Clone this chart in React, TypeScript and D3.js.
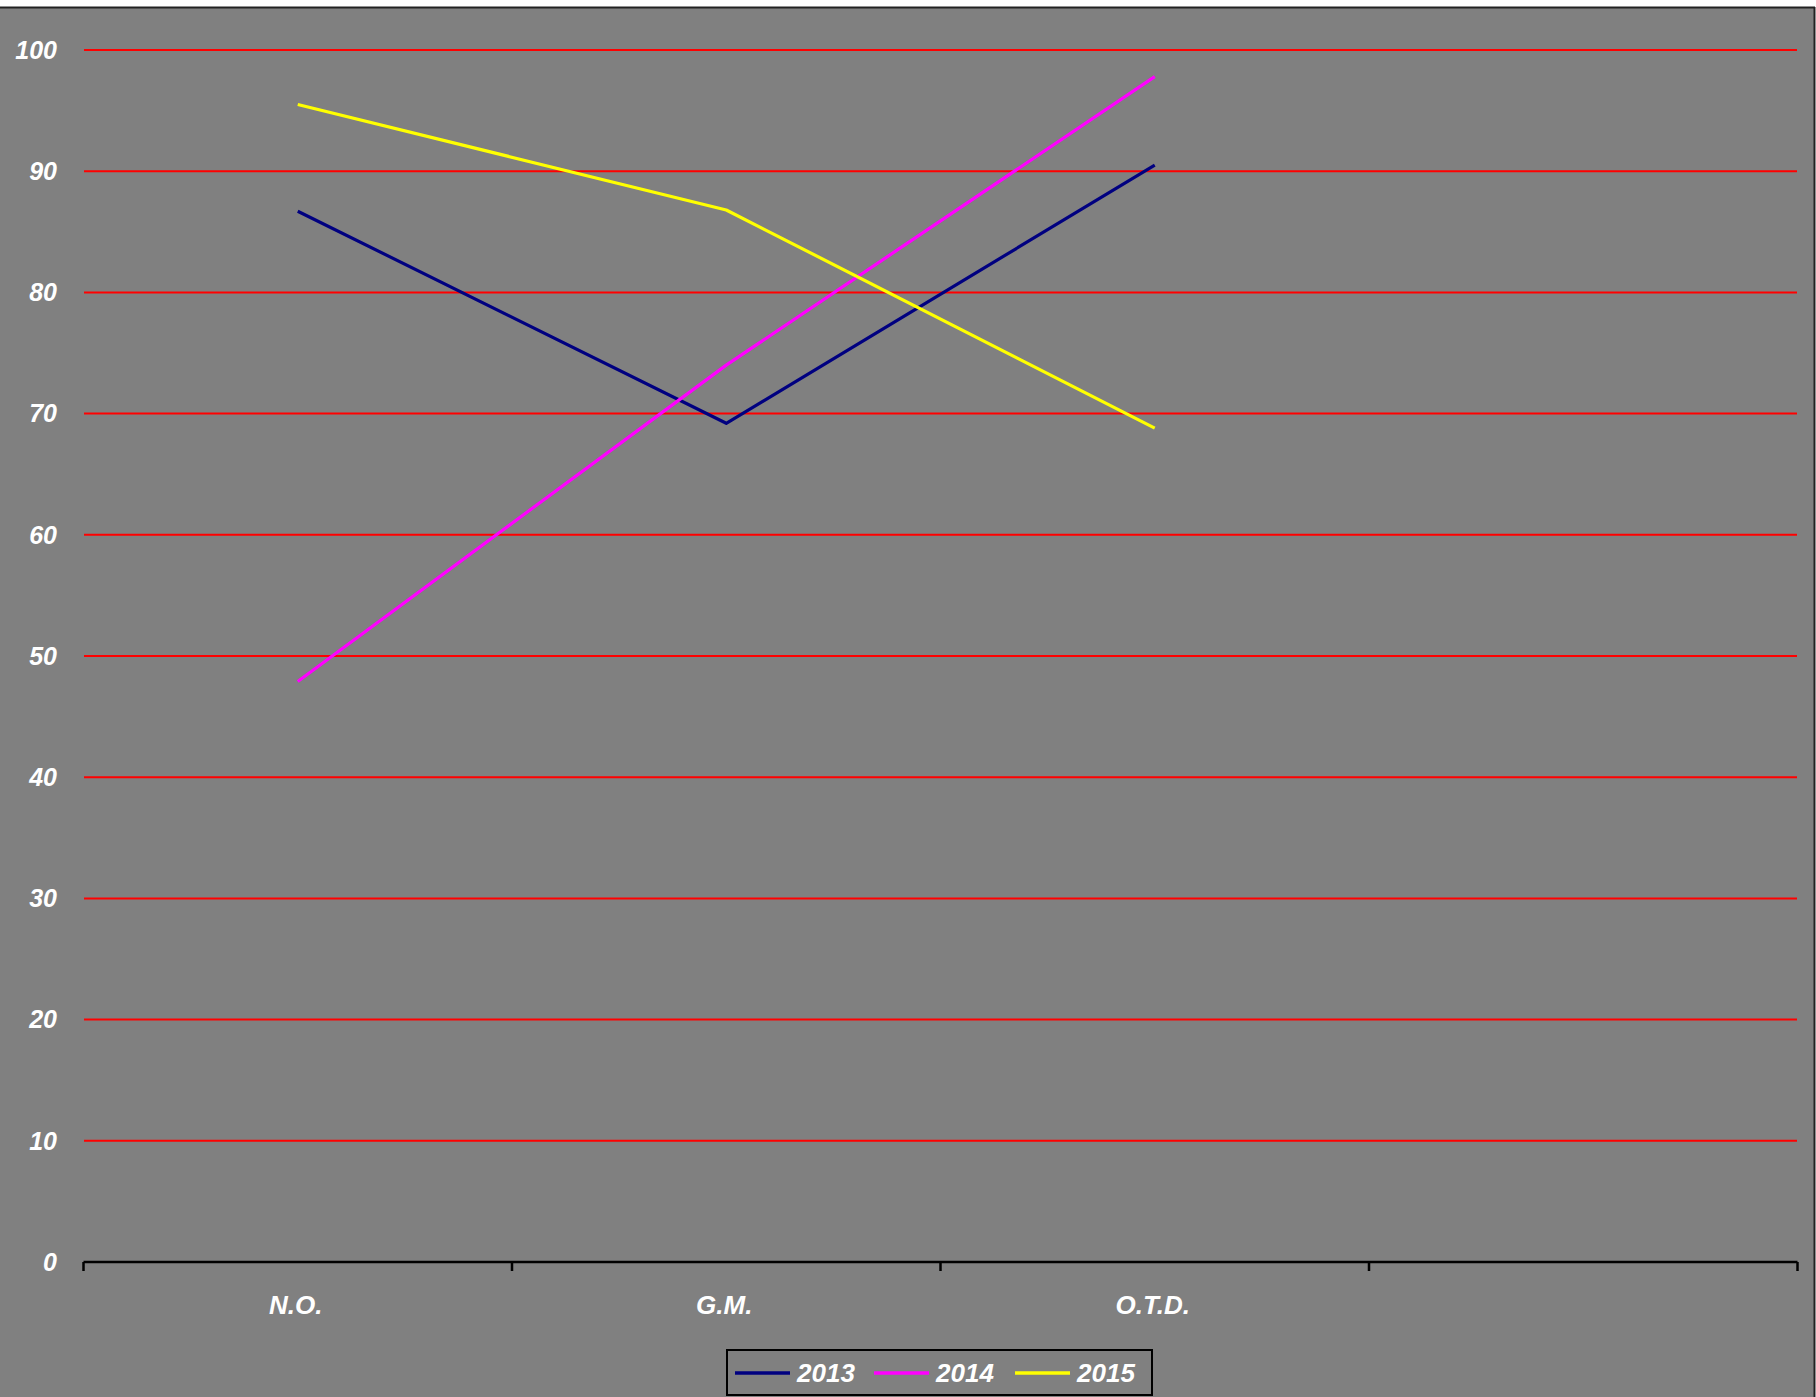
import React from "react";
import * as d3 from "d3";

const categories = ["N.O.", "G.M.", "O.T.D.", ""];
const seriesNames = ["2013", "2014", "2015"];
const values2013 = [86.7, 69.2, 90.5];
const values2014 = [47.9, 74.0, 97.8];
const values2015 = [95.5, 86.8, 68.8];
const seriesColors = ["#000080", "#FF00FF", "#FFFF00"];
const yTicks = [0, 10, 20, 30, 40, 50, 60, 70, 80, 90, 100];

const W = 1816;
const H = 1397;

export default function App() {
  const x = d3.scaleBand<string>().domain(categories).range([83.5, 1797.5]).paddingInner(0).paddingOuter(0);
  const y = d3.scaleLinear().domain([0, 100]).range([1262, 50]);
  const cx = (c: string) => (x(c) as number) + x.bandwidth() / 2;
  const allSeries = [values2013, values2014, values2015];
  const line = d3
    .line<number>()
    .x((_, i) => cx(categories[i]))
    .y((d) => y(d));
  const boundaries = categories.map((c) => x(c) as number).concat([x.range()[1]]);
  const font = "'Liberation Sans', Arial, sans-serif";

  const legendItems = [
    { lx: 735, tx: 797 },
    { lx: 874, tx: 936 },
    { lx: 1015, tx: 1077 },
  ];

  return (
    <svg width={W} height={H} style={{ position: "absolute", left: 0, top: 0, display: "block" }}>
      <rect x={0} y={0} width={W} height={H} fill="#ffffff" />
      <rect x={0} y={7} width={1814} height={H - 7} fill="#808080" />
      <line x1={0} x2={1815} y1={7.5} y2={7.5} stroke="#222" strokeWidth={2} />
      <line x1={1814.5} x2={1814.5} y1={7} y2={H} stroke="#222" strokeWidth={2} />

      {yTicks.filter((t) => t > 0).map((t) => (
        <line key={t} x1={84} x2={1797} y1={y(t)} y2={y(t)} stroke="#FF0000" strokeWidth={2} />
      ))}

      {yTicks.map((t) => (
        <text
          key={"l" + t}
          x={57}
          y={y(t)}
          dy="0.35em"
          textAnchor="end"
          fill="#ffffff"
          fontFamily={font}
          fontStyle="italic"
          fontWeight="bold"
          fontSize={25}
        >
          {t}
        </text>
      ))}

      <line x1={x.range()[0]} x2={x.range()[1]} y1={y(0)} y2={y(0)} stroke="#000" strokeWidth={2.5} />
      {boundaries.map((b, i) => (
        <line key={"t" + i} x1={b} x2={b} y1={y(0)} y2={y(0) + 9} stroke="#000" strokeWidth={2.5} />
      ))}

      {categories.map((c, i) =>
        c ? (
          <text
            key={"c" + i}
            x={cx(c) - 2}
            y={1314}
            textAnchor="middle"
            fill="#ffffff"
            fontFamily={font}
            fontStyle="italic"
            fontWeight="bold"
            fontSize={26}
          >
            {c}
          </text>
        ) : null
      )}

      {allSeries.map((s, i) => (
        <path key={"s" + i} d={line(s) || ""} fill="none" stroke={seriesColors[i]} strokeWidth={3.2} strokeLinejoin="round" />
      ))}

      <rect x={727} y={1350} width={425} height={45} fill="#808080" stroke="#000" strokeWidth={2} />
      {seriesNames.map((n, i) => (
        <g key={"lg" + i}>
          <line x1={legendItems[i].lx} x2={legendItems[i].lx + 55} y1={1373} y2={1373} stroke={seriesColors[i]} strokeWidth={3.5} />
          <text
            x={legendItems[i].tx}
            y={1382}
            fill="#ffffff"
            fontFamily={font}
            fontStyle="italic"
            fontWeight="bold"
            fontSize={26}
          >
            {n}
          </text>
        </g>
      ))}
    </svg>
  );
}
